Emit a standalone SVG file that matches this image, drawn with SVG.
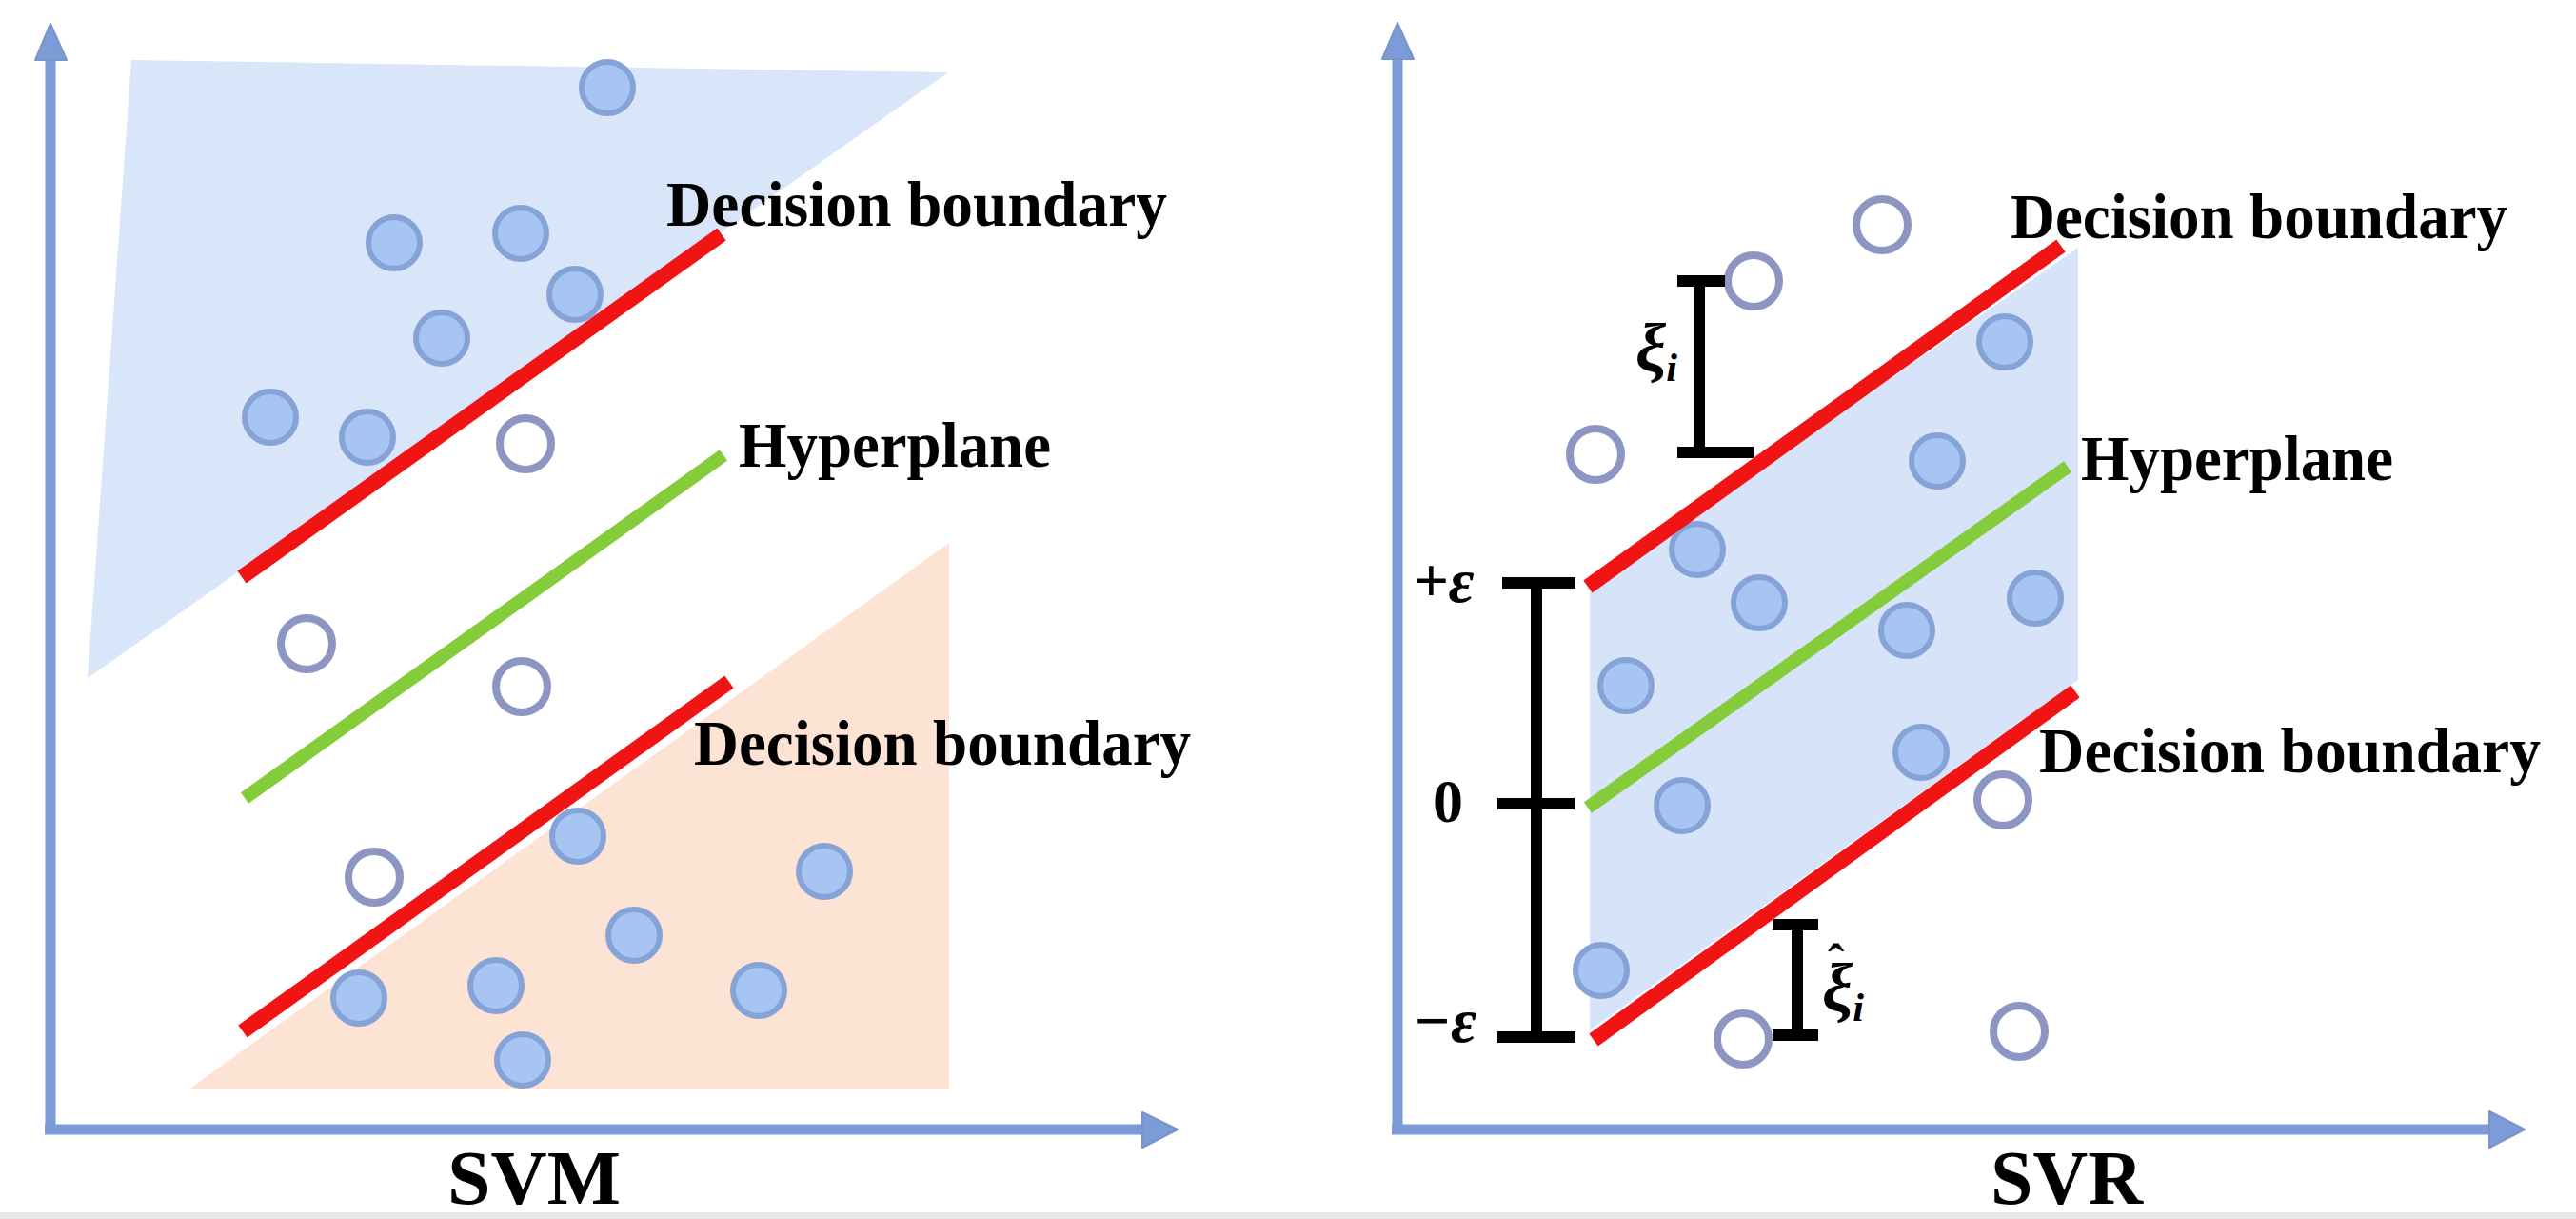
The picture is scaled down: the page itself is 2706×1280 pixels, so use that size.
<svg xmlns="http://www.w3.org/2000/svg" width="2706" height="1280" viewBox="0 0 2706 1280">
<style>
.ax{stroke:#7b9bd9;stroke-width:11;fill:none}
.axh{fill:#7b9bd9;stroke:#7b93c8;stroke-width:2;stroke-linejoin:round}
.pt{fill:#a6c5f2;stroke:#86a3d8;stroke-width:6}
.ho{fill:#ffffff;stroke:#8d95c3;stroke-width:8}
.red{stroke:#f01414;stroke-width:16;fill:none}
.grn{stroke:#84cc3a;stroke-width:14;fill:none}
.bar{stroke:#000;stroke-width:12;fill:none}
.lbl{font-family:"Liberation Serif","Times New Roman",serif;font-weight:bold;font-size:68px;fill:#000}
.ttl{font-family:"Liberation Serif","Times New Roman",serif;font-weight:bold;font-size:80px;fill:#000}
.sym{font-family:"Liberation Serif","Times New Roman",serif;font-weight:bold;font-style:italic;fill:#000}
.num{font-family:"Liberation Serif","Times New Roman",serif;font-weight:bold;font-size:64px;fill:#000}
</style>
<rect x="0" y="0" width="2706" height="1280" fill="#ffffff"/>

<g id="svm-panel">
  <g id="svm-regions">
    <polygon points="138,63 996,76 92,712" fill="#d9e5f8"/>
    <polygon points="198,1144 997,570 997,1144" fill="#fde3d3"/>
  </g>
  <g id="svm-axes">
    <line class="ax" x1="53" y1="1191" x2="53" y2="58"/>
    <polygon class="axh" points="53,25 37,63 70,63"/>
    <line class="ax" x1="47" y1="1186" x2="1204" y2="1186"/>
    <polygon class="axh" points="1237,1186 1200,1168 1200,1205"/>
  </g>
  <g id="svm-points">
    <circle class="pt" cx="638" cy="92" r="27"/>
    <circle class="pt" cx="414" cy="255" r="27"/>
    <circle class="pt" cx="547" cy="245" r="27"/>
    <circle class="pt" cx="604" cy="309" r="27"/>
    <circle class="pt" cx="464" cy="355" r="27"/>
    <circle class="pt" cx="284" cy="438" r="27"/>
    <circle class="pt" cx="386" cy="459" r="27"/>
    <circle class="ho" cx="552" cy="466" r="27"/>
    <circle class="ho" cx="322" cy="676" r="27"/>
    <circle class="ho" cx="548" cy="721" r="27"/>
    <circle class="ho" cx="393" cy="921" r="27"/>
    <circle class="pt" cx="607" cy="878" r="27"/>
    <circle class="pt" cx="866" cy="915" r="27"/>
    <circle class="pt" cx="666" cy="982" r="27"/>
    <circle class="pt" cx="377" cy="1048" r="27"/>
    <circle class="pt" cx="521" cy="1035" r="27"/>
    <circle class="pt" cx="797" cy="1040" r="27"/>
    <circle class="pt" cx="549" cy="1113" r="27"/>
  </g>
  <g id="svm-lines">
    <line class="red" x1="254" y1="606" x2="758" y2="246"/>
    <line class="grn" x1="257" y1="838" x2="760" y2="478"/>
    <line class="red" x1="255" y1="1083" x2="766" y2="716"/>
  </g>
  <g id="svm-labels">
    <text class="lbl" x="700" y="237" textLength="526" lengthAdjust="spacingAndGlyphs">Decision boundary</text>
    <text class="lbl" x="776" y="490" textLength="328" lengthAdjust="spacingAndGlyphs">Hyperplane</text>
    <text class="lbl" x="729" y="803" textLength="522" lengthAdjust="spacingAndGlyphs">Decision boundary</text>
    <text class="ttl" x="470" y="1264" textLength="182" lengthAdjust="spacingAndGlyphs">SVM</text>
  </g>
</g>

<g id="svr-panel">
  <g id="svr-regions">
    <polygon points="1670,617 2183,260 2183,714 1670,1082" fill="#d6e3f8"/>
  </g>
  <g id="svr-axes">
    <line class="ax" x1="1468" y1="1191" x2="1468" y2="58"/>
    <polygon class="axh" points="1468,24 1452,62 1485,62"/>
    <line class="ax" x1="1462" y1="1186" x2="2620" y2="1186"/>
    <polygon class="axh" points="2652,1186 2615,1167 2615,1205"/>
  </g>
  <g id="svr-points">
    <circle class="ho" cx="1977" cy="236" r="27"/>
    <circle class="ho" cx="1842" cy="295" r="27"/>
    <circle class="ho" cx="1676" cy="477" r="27"/>
    <circle class="ho" cx="2104" cy="840" r="27"/>
    <circle class="ho" cx="1831" cy="1091" r="27"/>
    <circle class="ho" cx="2121" cy="1083" r="27"/>
    <circle class="pt" cx="2106" cy="359" r="27"/>
    <circle class="pt" cx="2035" cy="484" r="27"/>
    <circle class="pt" cx="1783" cy="577" r="27"/>
    <circle class="pt" cx="1848" cy="633" r="27"/>
    <circle class="pt" cx="2003" cy="662" r="27"/>
    <circle class="pt" cx="2138" cy="628" r="27"/>
    <circle class="pt" cx="1708" cy="720" r="27"/>
    <circle class="pt" cx="2018" cy="790" r="27"/>
    <circle class="pt" cx="1767" cy="846" r="27"/>
    <circle class="pt" cx="1682" cy="1019" r="27"/>
  </g>
  <g id="svr-lines">
    <line class="red" x1="1668" y1="616" x2="2165" y2="258"/>
    <line class="grn" x1="1668" y1="848" x2="2172" y2="490"/>
    <line class="red" x1="1674" y1="1092" x2="2180" y2="726"/>
  </g>
  <g id="svr-bars">
    <path class="bar" d="M1785,295 V475 M1762,295 H1812 M1762,475 H1842"/>
    <path class="bar" d="M1888,971 V1087 M1862,971 H1910 M1862,1087 H1910"/>
    <path class="bar" d="M1614,612 V1089 M1578,612 H1655 M1573,844 H1654 M1573,1089 H1655"/>
  </g>
  <g id="svr-labels">
    <text class="lbl" x="2112" y="250" textLength="522" lengthAdjust="spacingAndGlyphs">Decision boundary</text>
    <text class="lbl" x="2186" y="504" textLength="328" lengthAdjust="spacingAndGlyphs">Hyperplane</text>
    <text class="lbl" x="2142" y="811" textLength="527" lengthAdjust="spacingAndGlyphs">Decision boundary</text>
    <text class="ttl" x="2091" y="1264" textLength="160" lengthAdjust="spacingAndGlyphs">SVR</text>
    <text class="sym" x="1718" y="390" font-size="72">ξ<tspan font-size="42" dy="10">i</tspan></text>
    <text class="sym" x="1914" y="1062" font-size="72">ξ<tspan font-size="42" dy="10">i</tspan><tspan x="1920" y="1028" font-size="52" font-style="normal">ˆ</tspan></text>
    <text class="sym" x="1484" y="632" font-size="66" font-style="normal">+<tspan font-style="italic">ε</tspan></text>
    <text class="num" x="1505" y="863">0</text>
    <text class="sym" x="1484" y="1094" font-size="66" font-style="normal">−<tspan font-style="italic">ε</tspan></text>
  </g>
</g>
<rect x="0" y="1273" width="2706" height="7" fill="#e6e9e6"/>
</svg>
